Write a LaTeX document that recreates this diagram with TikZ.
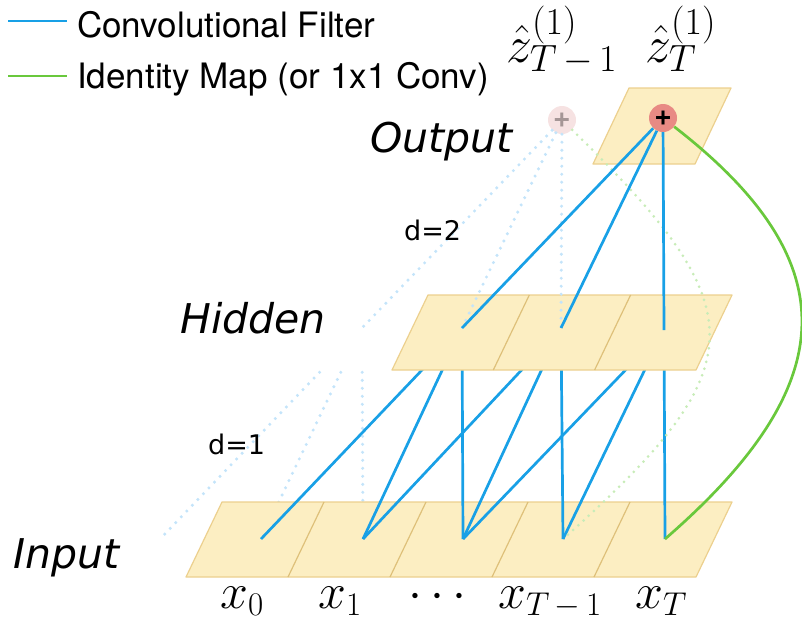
\RequirePackage{fix-cm}
\documentclass[tikz,border=0pt]{standalone}
\usepackage{fontspec}
\usepackage{tikz}
\usetikzlibrary{calc}

\newfontfamily\legendfont{TeX Gyre Heros}
\newfontfamily\labelfont{DejaVu Sans}
\DeclareMathSizes{50}{50}{33}{24}
\DeclareMathSizes{52}{52}{38}{28}
\newcommand{\smin}{\mskip3mu{-}\mskip3mu}

\definecolor{convblue}{RGB}{24,160,230}
\definecolor{idgreen}{RGB}{105,200,60}
\definecolor{ghostblue}{RGB}{196,228,250}
\definecolor{ghostgreen}{RGB}{200,236,184}
\definecolor{layerfill}{RGB}{252,238,194}
\definecolor{layerdraw}{RGB}{236,208,142}
\definecolor{celldraw}{RGB}{222,192,122}
\definecolor{sumred}{RGB}{232,138,132}
\definecolor{ghostred}{RGB}{246,226,226}
\definecolor{ghostplus}{RGB}{165,150,150}

\begin{document}
\begin{tikzpicture}[x=1pt, y=-1pt,
  filter/.style={draw=convblue, line width=2.7pt},
  ident/.style={draw=idgreen, line width=2.7pt},
  ghostfilter/.style={draw=ghostblue, line width=3.4pt, line cap=round, dash pattern=on 0pt off 8pt},
  ghostident/.style={draw=ghostgreen, line width=3pt, line cap=round, dash pattern=on 0pt off 7pt},
  layer/.style={fill=layerfill, draw=layerdraw, line width=1.2pt, line join=round},
  cellsep/.style={draw=celldraw, line width=1.2pt},
  sumnode/.style={circle, fill=sumred, minimum size=28pt, inner sep=0pt, font=\legendfont\bfseries\fontsize{30}{30}\selectfont},
  ghostsum/.style={sumnode, fill=ghostred, text=ghostplus},
  legend/.style={anchor=base west, inner sep=0pt, font=\legendfont\fontsize{35}{35}\selectfont},
  layername/.style={anchor=base west, inner sep=0pt, font=\labelfont\itshape\fontsize{41}{41}\selectfont},
  dlab/.style={anchor=base west, inner sep=0pt, font=\labelfont\fontsize{27}{27}\selectfont},
  mathlab/.style={anchor=base west, inner sep=0pt, font=\fontsize{50}{50}\selectfont},
  zlab/.style={anchor=base west, inner sep=0pt, font=\fontsize{52}{52}\selectfont}]
  \useasboundingbox (0,0) rectangle (802,624);

  % legend
  \coordinate (cf0) at (8,21); \coordinate (cf1) at (67,21);
  \coordinate (im0) at (8,76); \coordinate (im1) at (67,76);
  \draw[filter, line width=2pt] (cf0) -- (cf1);
  \draw[ident, line width=2pt] (im0) -- (im1);
  \node[legend] (cflab) at (77,37) {Convolutional Filter};
  \node[legend] (imlab) at (77,88) {Identity Map (or 1x1 Conv)};

  % unit positions
  \foreach \n/\x in {0/261, 1/363, 2/463, 3/563, 4/665}
    \coordinate (x\n) at (\x,539);
  \coordinate (xm) at (160,539);
  \coordinate (h0) at (362,328);
  \coordinate (h1) at (462,328);
  \coordinate (h2) at (561,328);
  \coordinate (h3) at (664,330);

  % faded d=1 links of the previous step
  \foreach \a in {xm, x0, x1}
    \draw[ghostfilter] ($(h0)!0.21!(\a)$) -- (\a);

  % input layer
  \draw[layer] (186,577) -- (222,502) -- (732,502) -- (696,577) -- cycle;
  \foreach \k in {1,...,4}
    \draw[cellsep] ({186+102*\k},577) -- ({222+102*\k},502);

  % d=1
  \foreach \a/\b in {x0/h1, x1/h1, x2/h1, x1/h2, x2/h2, x3/h2, x2/h3, x3/h3, x4/h3}
    \draw[filter] (\a) -- (\b);

  % hidden layer
  \draw[layer] (392,370) -- (428,295) -- (732,295) -- (696,370) -- cycle;
  \foreach \k in {1,2}
    \draw[cellsep] ({392+101.3*\k},370) -- ({428+101.3*\k},295);

  % output layer
  \draw[layer] (593,164) -- (629,88) -- (731,88) -- (695,164) -- cycle;
  \node[ghostsum] (gsum) at (562,120) {+};
  \node[sumnode] (sum) at (663,118) {+};

  % faded d=2 links and identity of the previous step
  \foreach \b in {h0, h1, h2}
    \draw[ghostfilter] (gsum) -- (\b);
  \draw[ghostident] (gsum) .. controls (757,310) and (757,366) .. (x3);

  % d=2
  \foreach \b in {h1, h2, h3}
    \draw[filter] (sum) -- (\b);
  \draw[ident] (sum) .. controls (846,260) and (846,382) .. (x4);

  % labels
  \node[layername] (outlab) at (370,152) {Output};
  \node[layername] (hidlab) at (180,333) {Hidden};
  \node[layername] (inlab) at (13,568) {Input};
  \node[dlab] (d2) at (404,240) {d=2};
  \node[dlab] (d1) at (208,454) {d=1};
  \node[zlab] (zT1) at (506,62) {$\hat{z}^{(1)}_{T\smin 1}$};
  \node[zlab] (zT) at (645,62) {$\hat{z}^{(1)}_{T}$};
  \node[mathlab] (lx0) at (220,608) {$x_0$};
  \node[mathlab] (lx1) at (318,608) {$x_1$};
  \node[mathlab] (ldots) at (408,608) {$\cdots$};
  \node[mathlab] (lxT1) at (498,608) {$x_{T\smin 1}$};
  \node[mathlab] (lxT) at (635,608) {$x_T$};
\end{tikzpicture}
\end{document}
